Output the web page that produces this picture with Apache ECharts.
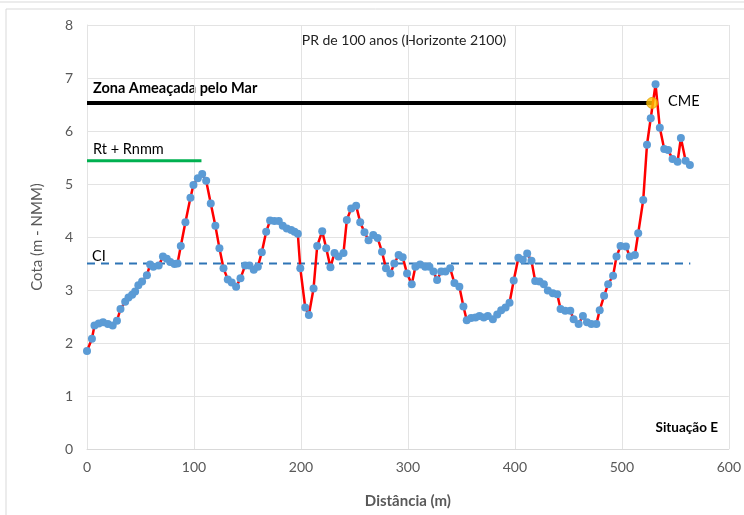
<!DOCTYPE html>
<html>
<head>
<meta charset="utf-8">
<script src="https://cdn.jsdelivr.net/npm/echarts@6/dist/echarts.min.js"></script>
<style>
  html, body { margin: 0; padding: 0; background: #fff; }
  #chart { width: 744px; height: 515px; }
</style>
</head>
<body>
<div id="chart"></div>
<script>
// distância (m)
const dist = [
  0, 4.6, 7, 11, 15, 19.5, 24, 28, 31.3, 35.7, 38.8, 42.2, 45, 48, 51.5, 56, 59, 62, 67, 71,
  74.6, 77.8, 81.8, 84.6, 87.7, 92, 96.7, 99.5, 103.6, 107.7, 111.4, 115.7, 120, 123.8, 127.6,
  131.6, 135.3, 139.4, 143.5, 147.8, 151.9, 155.9, 159.7, 163.4, 167.5, 171.2, 175.2, 179.3,
  183, 186.8, 190.9, 194, 197.1, 199.4, 204, 207.4, 211.8, 215.2, 219.9, 223.6, 227.6, 231.4,
  235.1, 239.8, 242.9, 247, 251.6, 255.4, 259.4, 263.2, 267.6, 271.7, 275.8, 279.5, 283.6,
  287.3, 291.3, 295.1, 299.2, 303.6, 307, 311.4, 316.1, 320.1, 323.9, 327.3, 331.1, 335.1,
  339.5, 343.5, 348.1, 351.9, 355, 359.1, 363.2, 366.9, 370.9, 374.7, 379.4, 383.5, 387.2,
  391.3, 395, 398.9, 403.3, 407.4, 411.5, 415.5, 419, 423, 427.1, 430.8, 435.5, 439.6, 442.7,
  447.1, 451.8, 454.9, 459.6, 463.6, 467.4, 471.5, 476.2, 479.3, 483.4, 487.2, 491.8, 495,
  498.8, 503.8, 507.5, 512.2, 515.3, 520, 523.5, 527, 531.5, 535.5, 539.6, 543.3, 547.4,
  552.1, 555.2, 559.6, 563.6
];
// cota (m - NMM)
const cota = [
  1.85, 2.08, 2.33, 2.37, 2.39, 2.36, 2.33, 2.42, 2.64, 2.78, 2.86, 2.91, 2.97, 3.09, 3.16, 3.28, 3.48, 3.44, 3.46, 3.63,
  3.59, 3.53, 3.49, 3.50, 3.83, 4.28, 4.74, 4.98, 5.11, 5.19, 5.06, 4.63, 4.21, 3.79, 3.41,
  3.20, 3.14, 3.06, 3.22, 3.46, 3.46, 3.38, 3.44, 3.71, 4.10, 4.31, 4.30, 4.30,
  4.21, 4.16, 4.13, 4.10, 4.06, 3.41, 2.67, 2.53, 3.03, 3.83, 4.11, 3.79, 3.43, 3.70,
  3.63, 3.70, 4.32, 4.54, 4.59, 4.28, 4.09, 3.94, 4.04, 3.98, 3.72, 3.41, 3.31,
  3.50, 3.66, 3.62, 3.31, 3.11, 3.44, 3.48, 3.44, 3.44, 3.35, 3.19, 3.35, 3.35,
  3.41, 3.13, 3.06, 2.69, 2.43, 2.47, 2.48, 2.51, 2.48, 2.51, 2.45, 2.54, 2.62,
  2.67, 2.76, 3.18, 3.61, 3.57, 3.69, 3.55, 3.17, 3.16, 3.11, 2.99, 2.94, 2.92, 2.64,
  2.61, 2.61, 2.45, 2.36, 2.51, 2.39, 2.36, 2.36, 2.62, 2.89, 3.11, 3.27, 3.63,
  3.83, 3.82, 3.63, 3.66, 4.07, 4.70, 5.74, 6.24, 6.88, 6.06, 5.66, 5.64, 5.47,
  5.42, 5.87, 5.44, 5.36
];

// linhas de referência
const zonaMar = [[0, 6.53], [528.3, 6.53]];
const rtRnmm = [[0, 5.44], [107, 5.44]];
const ci = [[0, 3.5], [564, 3.5]];
const cme = [[528.3, 6.53]];

const xTicks = { min: 0, max: 600, interval: 100 };
const yTicks = { min: 0, max: 8, interval: 1 };

const font = 'Lato, "Open Sans", sans-serif';
const grey = '#595959';

const chart = echarts.init(document.getElementById('chart'));

chart.setOption({
  animation: false,
  textStyle: { fontFamily: font },
  grid: { left: 87, right: 14, top: 25, bottom: 66 },
  xAxis: {
    type: 'value',
    min: xTicks.min, max: xTicks.max, interval: xTicks.interval,
    name: 'Distância (m)',
    nameLocation: 'middle',
    nameGap: 45,
    nameTextStyle: { color: grey, fontSize: 15, fontWeight: 'bold', fontFamily: font },
    axisLine: { show: true, lineStyle: { color: '#d9d9d9' } },
    axisTick: { show: false },
    axisLabel: { color: grey, fontSize: 14, margin: 11, fontFamily: font },
    splitLine: { show: true, lineStyle: { color: '#e3e3e3' } }
  },
  yAxis: {
    type: 'value',
    min: yTicks.min, max: yTicks.max, interval: yTicks.interval,
    name: 'Cota (m - NMM)',
    nameLocation: 'middle',
    nameGap: 42,
    nameTextStyle: { color: grey, fontSize: 15, fontFamily: font },
    axisLine: { show: true, lineStyle: { color: '#e3e3e3' } },
    axisTick: { show: false },
    axisLabel: { color: grey, fontSize: 14, margin: 14, fontFamily: font },
    splitLine: { show: true, lineStyle: { color: '#e3e3e3' } }
  },
  series: [
    {
      name: 'Zona Ameaçada pelo Mar',
      type: 'line',
      data: zonaMar,
      symbol: 'none',
      lineStyle: { color: '#000', width: 4 },
      z: 3
    },
    {
      name: 'Rt + Rnmm',
      type: 'line',
      data: rtRnmm,
      symbol: 'none',
      lineStyle: { color: '#00b050', width: 3 },
      z: 3
    },
    {
      name: 'CI',
      type: 'line',
      data: ci,
      symbol: 'none',
      lineStyle: { color: '#2e75b6', width: 2, type: [8, 6] },
      z: 2
    },
    {
      name: 'Perfil',
      type: 'line',
      data: dist.map((d, i) => [d, cota[i]]),
      symbol: 'circle',
      symbolSize: 8,
      lineStyle: { color: '#ff0000', width: 2.5 },
      itemStyle: { color: '#5b9bd5' },
      z: 4
    },
    {
      name: 'CME',
      type: 'scatter',
      data: cme,
      symbolSize: 11,
      itemStyle: { color: '#ffc000', borderColor: '#e0a000', borderWidth: 1 },
      z: 6
    }
  ],
  graphic: [
    { type: 'line', shape: { x1: 0, y1: 2, x2: 744, y2: 2 }, style: { stroke: '#d9d9d9', lineWidth: 1 } },
    { type: 'rect', shape: { x: 6, y: 9, width: 800, height: 600 }, style: { fill: 'none', stroke: '#d9d9d9', lineWidth: 1 } },
    { type: 'text', x: 404, y: 40, style: { text: 'PR de 100 anos (Horizonte 2100)', font: '14px ' + font, fill: '#222', align: 'center', verticalAlign: 'middle' } },
    { type: 'text', x: 93, y: 88, style: { text: 'Zona Ameaçada pelo Mar', font: 'bold 14.5px ' + font, fill: '#000', verticalAlign: 'middle' } },
    { type: 'text', x: 93, y: 149, style: { text: 'Rt + Rnmm', font: '14.5px ' + font, fill: '#000', verticalAlign: 'middle' } },
    { type: 'text', x: 92, y: 256, style: { text: 'CI', font: '14.5px ' + font, fill: '#000', verticalAlign: 'middle' } },
    { type: 'text', x: 668, y: 101, style: { text: 'CME', font: '14.5px ' + font, fill: '#000', verticalAlign: 'middle' } },
    { type: 'text', x: 718, y: 428, style: { text: 'Situação E', font: 'bold 13.5px ' + font, fill: '#000', align: 'right', verticalAlign: 'middle' } }
  ]
});
</script>
</body>
</html>
